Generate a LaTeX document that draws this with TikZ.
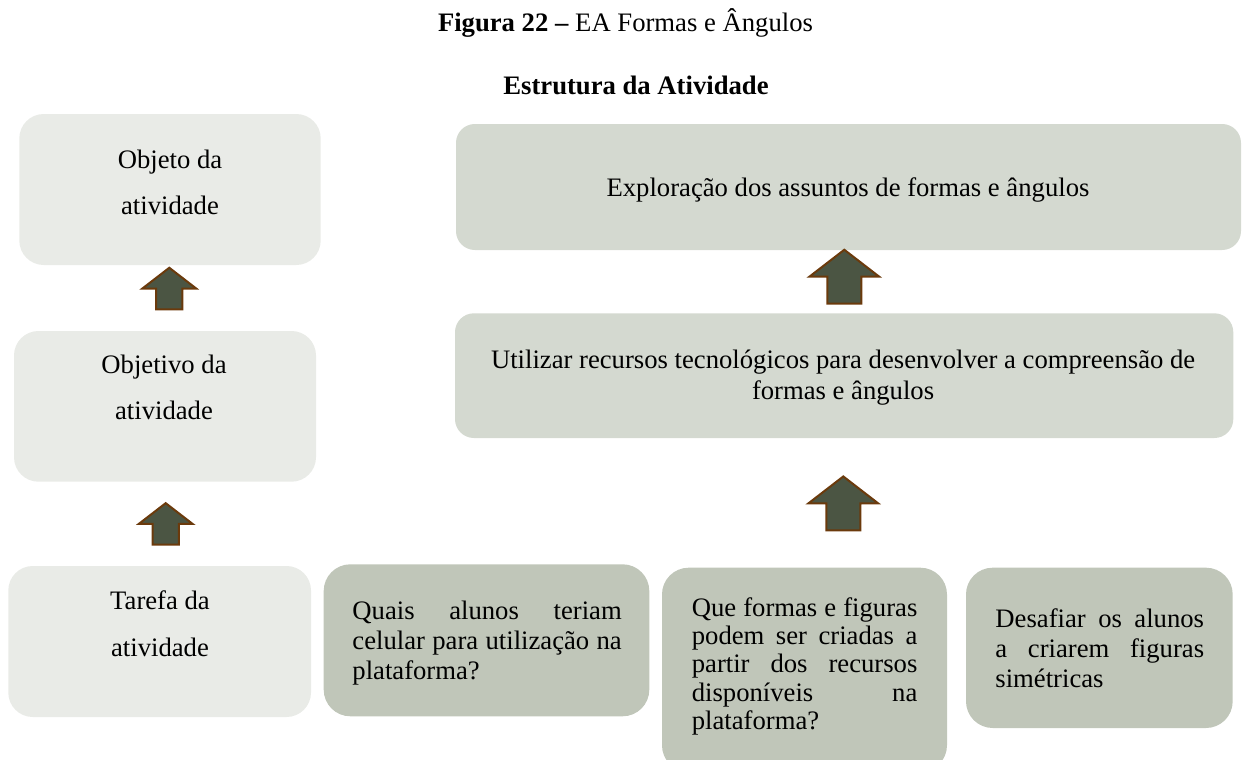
\documentclass[tikz,border=0pt]{standalone}
\usepackage{fontspec}
\setmainfont{Liberation Serif}
\usetikzlibrary{calc}
\definecolor{boxlight}{HTML}{E9EBE7}
\definecolor{boxmid}{HTML}{D4D9D0}
\definecolor{boxdark}{HTML}{C0C6B9}
\definecolor{arrowfill}{HTML}{4B5543}
\definecolor{arrowedge}{HTML}{6B3A0C}
% one justified line of a fixed width
\newcommand{\jline}[2]{\makebox[#1][s]{#2}}

\begin{document}
\begin{tikzpicture}[x=0.45pt, y=-0.45pt,
  panel/.style 2 args={rectangle, draw=none, inner sep=0pt,
    minimum width=#1*0.45pt, minimum height=#2*0.45pt},
  lightbox/.style={fill=boxlight, rounded corners=11pt},
  midbox/.style={fill=boxmid, rounded corners=8.5pt},
  darkbox/.style={fill=boxdark, rounded corners=12pt},
  txt/.style={inner sep=0pt, anchor=base, font=\fontsize{12}{21}\selectfont},
  jtxt/.style={inner sep=0pt, anchor=base west},
  uparrow/.pic={\draw[fill=arrowfill, draw=arrowedge, line width=0.9pt, line join=miter]
    (0,0) -- (35,27) -- (17,27) -- (17,54) -- (-17,54) -- (-17,27) -- (-35,27) -- cycle;}
]
\useasboundingbox (0,0) rectangle (1243,760);

% headings
\node[anchor=base, inner sep=0pt, font=\fontsize{12}{14}\selectfont] (title) at (625.5,32)
  {\textbf{Figura 22 –} EA Formas e Ângulos};
\node[anchor=base, inner sep=0pt, font=\fontsize{12}{14}\selectfont\bfseries] (heading) at (636,94)
  {Estrutura da Atividade};

% left column
\node[panel={301.4}{151}, lightbox] (objeto) at (170,189.5) {};
\node[panel={302}{150.7}, lightbox] (objetivo) at (165,406.35) {};
\node[panel={302.7}{151}, lightbox] (tarefa) at (159.65,641.5) {};
\node[txt] (objeto-t) at (170,168.3)
  {\begin{tabular}[t]{@{}c@{}}Objeto da\\atividade\end{tabular}};
\node[txt] (objetivo-t) at (164,373.3)
  {\begin{tabular}[t]{@{}c@{}}Objetivo da\\atividade\end{tabular}};
\node[txt] (tarefa-t) at (160,609.6)
  {\begin{tabular}[t]{@{}c@{}}Tarefa da\\atividade\end{tabular}};

% right column
\node[panel={785}{126}, midbox] (exploracao) at (848.5,187) {};
\node[panel={778.3}{124.7}, midbox] (utilizar) at (844.15,375.65) {};
\node[txt] (exploracao-t) at (848,196) {Exploração dos assuntos de formas e ângulos};
\node[txt, font=\fontsize{12}{13.95}\selectfont] (utilizar-t) at (843.1,368.3)
  {\begin{tabular}[t]{@{}c@{}}Utilizar recursos tecnológicos para desenvolver a compreensão de\\formas e ângulos\end{tabular}};

% task boxes
\node[panel={325.6}{152}, darkbox] (quais) at (486.5,640.3) {};
\node[panel={285}{204.3}, darkbox] (formas) at (804.5,669.85) {};
\node[panel={266.7}{160.3}, darkbox] (desafiar) at (1099.35,647.85) {};
\node[jtxt, font=\fontsize{12}{13.5}\selectfont] (quais-t) at (352,619.7)
  {\begin{tabular}[t]{@{}l@{}}\jline{121.2pt}{Quais alunos teriam}\\
   \jline{121.2pt}{celular para utilização na}\\plataforma?\end{tabular}};
\node[jtxt, font=\fontsize{12}{12.8}\selectfont] (formas-t) at (691.4,616)
  {\begin{tabular}[t]{@{}l@{}}\jline{101.5pt}{Que formas e figuras}\\
   \jline{101.5pt}{podem ser criadas a}\\
   \jline{101.5pt}{partir dos recursos}\\
   \jline{101.5pt}{disponíveis na}\\plataforma?\end{tabular}};
\node[jtxt, font=\fontsize{12}{13.5}\selectfont] (desafiar-t) at (995,627)
  {\begin{tabular}[t]{@{}l@{}}\jline{93.9pt}{Desafiar os alunos}\\
   \jline{93.9pt}{a criarem figuras}\\simétricas\end{tabular}};

% block arrows pointing upwards
\pic[scale=0.77] at ($(objeto.south)+(-0.7,2.3)$) {uparrow};
\pic[scale=0.77] at ($(objetivo.south)+(0.7,21)$) {uparrow};
\pic at ($(exploracao.south)+(-4.2,-0.7)$) {uparrow};
\pic at ($(utilizar.south)+(-0.85,38)$) {uparrow};
\end{tikzpicture}
\end{document}
